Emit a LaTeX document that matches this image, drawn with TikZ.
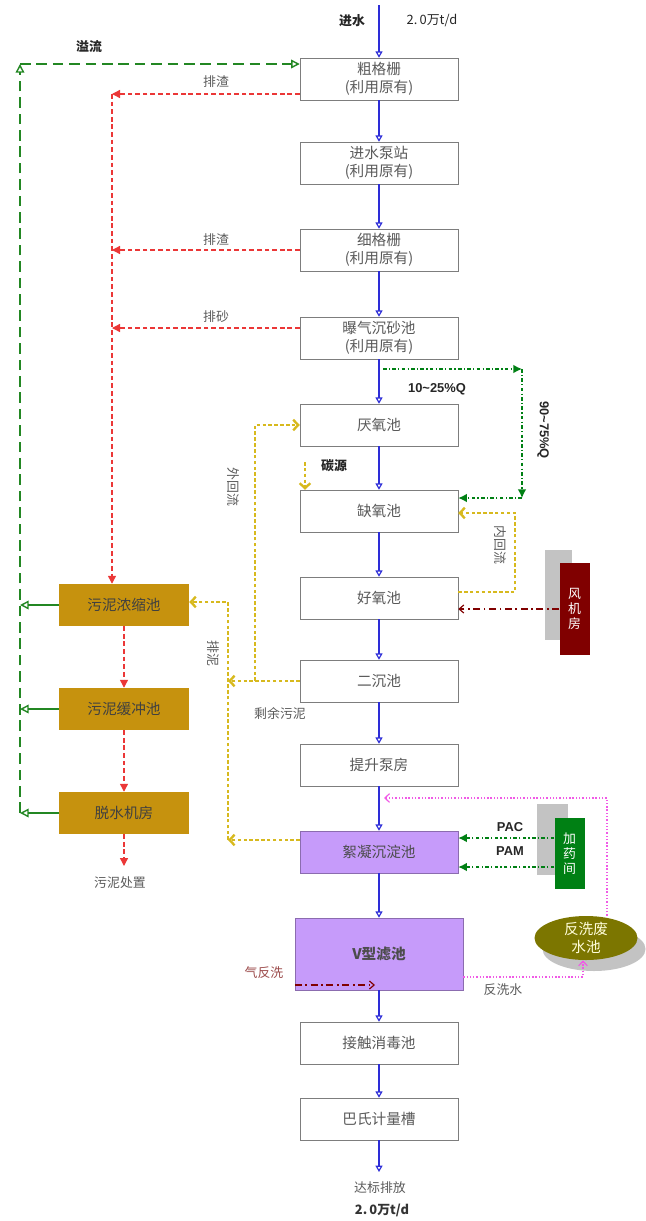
\documentclass[tikz,border=0pt]{standalone}
\usepackage{fontspec}
\setmainfont{Noto Sans CJK SC}
\newfontfamily\latinfont{Liberation Sans}
\usetikzlibrary{arrows.meta,shapes.geometric}
\definecolor{flowblue}{RGB}{45,45,215}
\definecolor{slagred}{RGB}{235,55,55}
\definecolor{overgreen}{RGB}{35,135,35}
\definecolor{returnyel}{RGB}{215,185,30}
\definecolor{sludgegold}{RGB}{198,146,14}
\definecolor{violetbox}{RGB}{198,155,250}
\definecolor{blowerred}{RGB}{128,0,0}
\definecolor{dosegreen}{RGB}{0,128,20}
\definecolor{olivepool}{RGB}{124,118,0}
\definecolor{washpink}{RGB}{240,90,230}
\definecolor{boxgray}{RGB}{125,125,125}
\definecolor{textgray}{RGB}{90,90,90}
\definecolor{shadowgray}{RGB}{195,195,195}
\newcommand\boxfont{\fontsize{12.5}{15}\selectfont}
\newcommand\tagfont{\fontsize{11}{13}\selectfont}
\tikzset{
  plant/.style={draw=boxgray,fill=white,minimum width=4.74cm,minimum height=1.26cm,
    align=center,font=\boxfont,text=textgray,inner sep=1pt},
  chem/.style={plant,fill=violetbox,draw=violetbox!70!black,text=black!70},
  sludge/.style={fill=sludgegold,minimum width=3.9cm,minimum height=1.26cm,
    font=\boxfont,text=black!75},
  house/.style={fill=#1,text=white,minimum width=0.9cm,align=center,
    font=\tagfont,inner sep=1pt},
  house/.default=blowerred,
  pool/.style={ellipse,fill=#1,minimum width=3.09cm,minimum height=1.32cm,
    align=center,font=\boxfont,text=yellow!15,inner sep=0pt},
  pool/.default=olivepool,
  mainflow/.style={draw=flowblue,line width=1.6pt,
    -{Triangle[open,length=1.9mm,width=2.1mm,line width=1pt]}},
  slag/.style={draw=slagred,line width=1.1pt,dash pattern=on 4pt off 2.5pt,
    -{Triangle[length=2.4mm,width=2.4mm]}},
  overflow/.style={draw=overgreen,line width=2.2pt,dash pattern=on 9pt off 5pt,
    -{Triangle[open,length=2.6mm,width=2.6mm,line width=1.2pt]}},
  backflow/.style={draw=returnyel,line width=2pt,dash pattern=on 3pt off 2pt,
    -{Straight Barb[length=1.5mm,width=3.2mm]}},
  dosing/.style={draw=dosegreen,line width=1.2pt,dash pattern=on 3pt off 2pt on 1pt off 2pt,
    -{Latex[length=2.6mm,width=2.6mm]}},
  air/.style={draw=blowerred,line width=1pt,dash pattern=on 6pt off 3pt on 1.5pt off 3pt,
    -{Straight Barb[length=1.4mm,width=2.4mm]}},
  wash/.style={draw=washpink,line width=1pt,dash pattern=on 1.2pt off 1.6pt,
    -{Straight Barb[length=1.4mm,width=2.6mm]}},
  tag/.style={font=\tagfont,text=textgray},
  bold tag/.style={font=\tagfont\bfseries,text=black!85},
  num tag/.style={font=\latinfont\tagfont\bfseries,text=black!85},
}
\begin{document}
\begin{tikzpicture}[x=0.03cm,y=-0.03cm]
\useasboundingbox (0,0) rectangle (646,1221);
% treatment line
\node[plant] (cg) at (379,79) {粗格栅\\(利用原有)};
\node[plant] (jb) at (379,163) {进水泵站\\(利用原有)};
\node[plant] (xg) at (379,250) {细格栅\\(利用原有)};
\node[plant] (cs) at (379,338) {曝气沉砂池\\(利用原有)};
\node[plant] (yy) at (379,425) {厌氧池};
\node[plant] (qy) at (379,511) {缺氧池};
\node[plant] (hy) at (379,598) {好氧池};
\node[plant] (ec) at (379,681) {二沉池};
\node[plant] (ts) at (379,765) {提升泵房};
\node[chem] (xn) at (379,852) {絮凝沉淀池};
\node[chem,minimum width=5.04cm,minimum height=2.16cm,font=\boxfont\bfseries] (vl) at (379,954) {V型滤池};
\node[plant] (jc) at (379,1043) {接触消毒池};
\node[plant] (bs) at (379,1119) {巴氏计量槽};
\coordinate (in) at (379,5);
\coordinate (out) at (379,1172);
\draw[mainflow] (in) -- (cg);
\foreach \a/\b in {cg/jb,jb/xg,xg/cs,cs/yy,yy/qy,qy/hy,hy/ec,ec/ts,ts/xn,xn/vl,vl/jc,jc/bs}
  \draw[mainflow] (\a) -- (\b);
\draw[mainflow] (bs) -- (out);
\node[bold tag] (inlbl) at (352,21) {进水};
\node[font=\tagfont,text=black!85] (inq) at (432,21) {2.\,0万t/d};
\node[tag] (outlbl) at (380,1188) {达标排放};
\node[font=\tagfont\bfseries,text=black!80] (outq) at (382,1210) {2.\,0万t/d};
% sludge line
\node[sludge] (nc) at (124,605) {污泥浓缩池};
\node[sludge] (hc) at (124,709) {污泥缓冲池};
\node[sludge] (tj) at (124,813) {脱水机房};
\coordinate (dis) at (124,866);
\node[tag] (dislbl) at (120,883) {污泥处置};
\draw[slag] (nc) -- (hc);
\draw[slag] (hc) -- (tj);
\draw[slag] (tj) -- (dis);
\coordinate (sl) at (112,94);
\coordinate (sa) at (112,328);
\draw[slag] (cg.west |- sl) -- (sl);
\draw[slag] (sl) -- (sl |- nc.north);
\draw[slag] (xg.west) -- (xg.west -| sl);
\draw[slag] (cs.west |- sa) -- (sa);
\node[tag] (pz1) at (216,82) {排渣};
\node[tag] (pz2) at (216,240) {排渣};
\node[tag] (ps) at (216,317) {排砂};
% overflow
\coordinate (ov) at (20,64);
\draw[overflow] (tj.west -| ov) -- (ov);
\draw[overflow] (ov) -- (cg.west |- ov);
\foreach \s in {nc,hc,tj}
  \draw[overflow,solid] (\s.west) -- (\s.west -| ov);
\node[bold tag] (yl) at (89,47) {溢流};
% split flow
\coordinate (sp) at (383,369);
\coordinate (spr) at (522,369);
\coordinate (spd) at (522,498);
\draw[dosing] (sp) -- (spr);
\draw[dosing] (spr) -- (spd);
\draw[dosing] (spd) -- (qy.east |- spd);
\node[num tag] (q1) at (437,389) {10\textasciitilde25\%Q};
\node[num tag,rotate=-90] (q2) at (543,430) {90\textasciitilde75\%Q};
% returns
\coordinate (ex) at (228,681);
\coordinate (eo) at (255,681);
\coordinate (pb) at (228,840);
\coordinate (pt) at (228,602);
\draw[backflow] (ec.west) -- (ex);
\draw[backflow] (eo) -- (eo |- yy.west) -- (yy.west);
\draw[backflow] (xn.west |- pb) -- (pb);
\draw[backflow] (pb) -- (pt) -- (nc.east |- pt);
\node[tag,rotate=-90] (wh) at (233,487) {外回流};
\node[tag,rotate=-90] (pn) at (213,653) {排泥};
\node[tag] (sy) at (280,714) {剩余污泥};
\coordinate (cy) at (305,462);
\draw[backflow] (cy) -- (cy |- qy.north);
\node[bold tag] (cylbl) at (334,466) {碳源};
\coordinate (nh) at (515,592);
\coordinate (nt) at (515,513);
\draw[backflow] (hy.east |- nh) -- (nh) -- (nt) -- (qy.east |- nt);
\node[tag,rotate=-90] (nhl) at (500,545) {内回流};
% blower and dosing rooms
\fill[shadowgray] (545,550) rectangle (572,640);
\node[house=blowerred,minimum height=2.76cm] (fj) at (574.5,609) {风\\机\\房};
\draw[air] (fj.west) -- (fj.west -| hy.east);
\fill[shadowgray] (537,804) rectangle (568,875);
\node[house=dosegreen,minimum height=2.13cm] (jy) at (569.5,853.5) {加\\药\\间};
\coordinate (pac) at (554,838);
\coordinate (pam) at (554,867);
\draw[dosing] (jy.west |- pac) -- (xn.east |- pac);
\draw[dosing] (jy.west |- pam) -- (xn.east |- pam);
\node[num tag] (pacl) at (510,827) {PAC};
\node[num tag] (paml) at (510,851) {PAM};
% backwash
\node[pool=shadowgray] (fxs) at (594,949) {};
\node[pool] (fx) at (586,938) {反洗废\\水池};
\coordinate (wt) at (607,798);
\coordinate (wm) at (384,798);
\coordinate (wb) at (583,977);
\draw[wash] (wt |- fx.north) -- (wt) -- (wm);
\draw[wash] (vl.east |- wb) -- (wb) -- (wb |- fx.south);
\node[tag] (fxl) at (503,990) {反洗水};
\coordinate (qf) at (375,985);
\draw[air] (vl.west |- qf) -- (qf);
\node[tag,text=slagred!45!textgray] (qfl) at (264,973) {气反洗};
\end{tikzpicture}
\end{document}
